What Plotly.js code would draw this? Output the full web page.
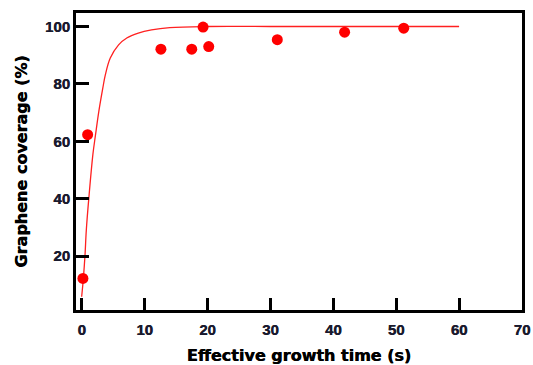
<!DOCTYPE html>
<html>
<head>
<meta charset="utf-8">
<script src="https://cdn.plot.ly/plotly-3.0.1.min.js"></script>
<style>html,body{margin:0;padding:0;background:#fff}#chart{width:533px;height:365px}</style>
</head>
<body>
<div id="chart"></div>
<script>
// Measured data points
const timeS = [0.2, 0.95, 12.6, 17.5, 19.3, 20.2, 31.1, 41.8, 51.2];
const coverage = [12.2, 62.3, 92.1, 92.1, 99.8, 93.0, 95.4, 98.0, 99.4];

// Fit curve
const fitTime = [0, 0.27, 0.53, 0.74, 1.16, 1.79, 2.2, 2.73, 3.36, 3.77, 4.55, 5.87, 7.17, 9.0, 11.1, 14, 20, 30, 40, 50, 60];
const fitCov = [5.8, 12.2, 20.3, 29.1, 40.7, 55.5, 62.2, 70.4, 78.5, 83.2, 89, 93.6, 96, 97.7, 98.8, 99.6, 100, 100, 100, 100, 100];

const xTicks = [0, 10, 20, 30, 40, 50, 60, 70];
const yTicks = [20, 40, 60, 80, 100];

const tickFont = {family: 'Liberation Sans, Arial, sans-serif', size: 15, color: '#1a1a2e', weight: 'bold', shadow: '0.4px 0 0 #1a1a2e'};
const titleFont = {family: 'DejaVu Sans, sans-serif', size: 16, color: '#000', weight: 'bold', shadow: '0.5px 0 0 #000'};

const traces = [
  {x: fitTime, y: fitCov, mode: 'lines', type: 'scatter', line: {color: '#ff2020', width: 1.3, shape: 'spline'}, hoverinfo: 'skip'},
  {x: timeS, y: coverage, mode: 'markers', type: 'scatter', marker: {color: '#ff0000', size: 11}}
];

const layout = {
  width: 533, height: 365,
  margin: {l: 76, r: 11, t: 13, b: 55},
  paper_bgcolor: '#fff', plot_bgcolor: '#fff',
  showlegend: false,
  xaxis: {
    range: [-0.9, 70], tickvals: xTicks, ticktext: xTicks.map(String),
    ticks: 'inside', ticklen: 12, tickwidth: 3, tickcolor: '#000',
    showline: true, linewidth: 3, linecolor: '#000', mirror: true,
    showgrid: false, zeroline: false, tickfont: tickFont, ticklabelstandoff: 4,
    title: {text: 'Effective growth time (s)', font: titleFont, standoff: 14}
  },
  yaxis: {
    range: [1.2, 104.7], tickvals: yTicks, ticktext: yTicks.map(String),
    ticks: 'inside', ticklen: 13, tickwidth: 3, tickcolor: '#000',
    showline: true, linewidth: 3, linecolor: '#000', mirror: true,
    showgrid: false, zeroline: false, tickfont: tickFont,
    title: {text: 'Graphene coverage (%)', font: titleFont, standoff: 14}
  }
};

Plotly.newPlot('chart', traces, layout, {staticPlot: true, displayModeBar: false});
</script>
</body>
</html>
